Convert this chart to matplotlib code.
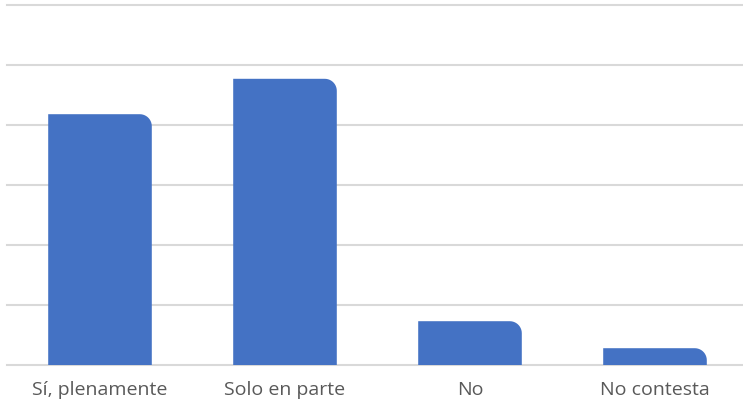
import matplotlib
matplotlib.use('Agg')
import matplotlib.pyplot as plt
import numpy as np
from matplotlib.path import Path
from matplotlib.patches import PathPatch

categories = ['Sí, plenamente', 'Solo en parte', 'No', 'No contesta']
values = [41.8, 47.7, 7.3, 2.8]
grid_ticks = [0, 10, 20, 30, 40, 50, 60]

bar_color = '#4472C4'
bar_width = 0.56
radius_px = 12

plt.rcParams['font.family'] = ['Open Sans', 'DejaVu Sans']

fig = plt.figure(figsize=(7.43, 4.05), dpi=100)
ax = fig.add_axes([7.5 / 743, 40 / 405, 740 / 743, 360 / 405])
ax.set_xlim(-0.5, 3.5)
ax.set_ylim(0, 60)

ax.set_yticks(grid_ticks)
ax.yaxis.grid(True, color='#d9d9d9', linewidth=1.5)
ax.set_axisbelow(True)
ax.tick_params(axis='y', left=False, labelleft=False)
ax.tick_params(axis='x', bottom=False, labelsize=14, labelcolor='#595959', pad=8)
ax.set_xticks(range(len(categories)))
ax.set_xticklabels(categories)
for s in ax.spines.values():
    s.set_visible(False)
for gl in ax.get_ygridlines():
    gl.set_clip_on(False)

# bars with rounded top-right corner, radius in pixels
to_disp = ax.transData
to_data = ax.transData.inverted()
for i, v in enumerate(values):
    x0, x1 = i - bar_width / 2, i + bar_width / 2
    (px0, py0) = to_disp.transform((x0, 0))
    (px1, py1) = to_disp.transform((x1, v))
    r = min(radius_px, (py1 - py0), (px1 - px0) / 2)
    pts = [(px0, py0), (px1, py0), (px1, py1 - r)]
    for a in np.linspace(0, np.pi / 2, 12):
        pts.append((px1 - r + r * np.cos(a), py1 - r + r * np.sin(a)))
    pts.append((px0, py1))
    pts.append((px0, py0))
    data_pts = to_data.transform(pts)
    codes = [Path.MOVETO] + [Path.LINETO] * (len(data_pts) - 2) + [Path.CLOSEPOLY]
    ax.add_patch(PathPatch(Path(data_pts, codes), facecolor=bar_color, edgecolor='none', zorder=3))

fig.savefig('out.png', dpi=100)
